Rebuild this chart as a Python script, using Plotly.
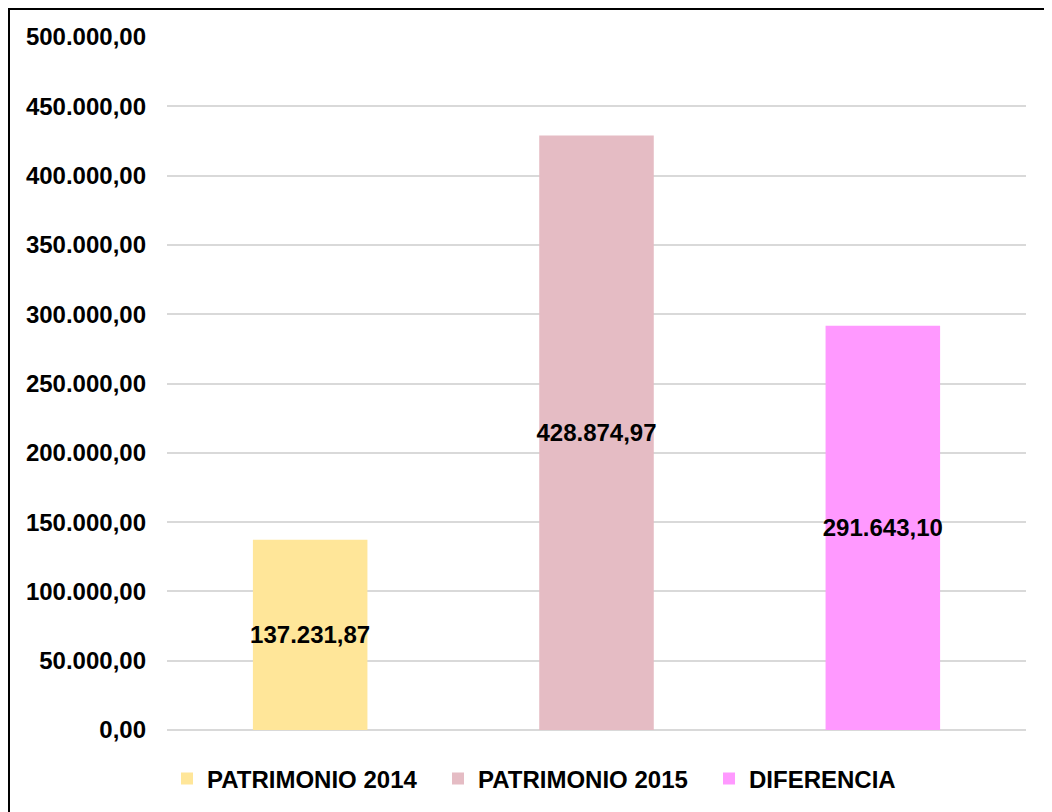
import plotly.graph_objects as go

categories = ["PATRIMONIO 2014", "PATRIMONIO 2015", "DIFERENCIA"]
values = [137231.87, 428874.97, 291643.10]
labels = ["137.231,87", "428.874,97", "291.643,10"]
colors = ["#FFE699", "#E5BCC4", "#FF99FF"]
tick_vals = [0, 50000, 100000, 150000, 200000, 250000, 300000, 350000, 400000, 450000, 500000]
tick_text = ["0,00", "50.000,00", "100.000,00", "150.000,00", "200.000,00", "250.000,00",
             "300.000,00", "350.000,00", "400.000,00", "450.000,00", "500.000,00"]

FONT = "Liberation Sans, Arial, sans-serif"
FS = 24

fig = go.Figure()
for c, v, l, col in zip(categories, values, labels, colors):
    fig.add_trace(go.Bar(
        x=[c], y=[v], name=c, marker=dict(color=col, line=dict(width=0)),
        text=[l], textposition="inside", insidetextanchor="middle",
        constraintext="none", textangle=0,
        textfont=dict(family=FONT, size=FS, color="black", weight="bold"),
        hoverinfo="skip",
    ))

fig.update_layout(
    width=1052, height=804,
    margin=dict(l=159, r=34, t=29, b=81),
    paper_bgcolor="white", plot_bgcolor="white",
    barmode="overlay", bargap=0.6,
    font=dict(family=FONT, size=FS, color="black", weight="bold"),
    showlegend=True,
    legend=dict(orientation="h", x=0.0, xanchor="left", y=-0.069, yanchor="middle",
                font=dict(family=FONT, size=FS, color="black", weight="bold"),
                itemwidth=30, tracegroupgap=0, traceorder="normal",
                entrywidth=226, entrywidthmode="pixels"),
    xaxis=dict(showticklabels=False, showgrid=False, zeroline=False, showline=False),
    yaxis=dict(range=[0, 500000], tickvals=tick_vals, ticktext=tick_text,
               showgrid=True, gridcolor="#D9D9D9", gridwidth=1.5,
               zeroline=True, zerolinecolor="#D9D9D9", zerolinewidth=1.5,
               showline=False, ticklabelstandoff=20,
               tickfont=dict(family=FONT, size=FS, color="black", weight="bold")),
    shapes=[
        dict(type="line", xref="paper", yref="paper",
             x0=-0.1851, x1=1.2, y0=1.0418, y1=1.0418,
             line=dict(color="black", width=4), layer="above"),
        dict(type="line", xref="paper", yref="paper",
             x0=-0.1851, x1=-0.1851, y0=-0.3, y1=1.0418,
             line=dict(color="black", width=4), layer="above"),
    ],
)

fig.write_html("out.html")
